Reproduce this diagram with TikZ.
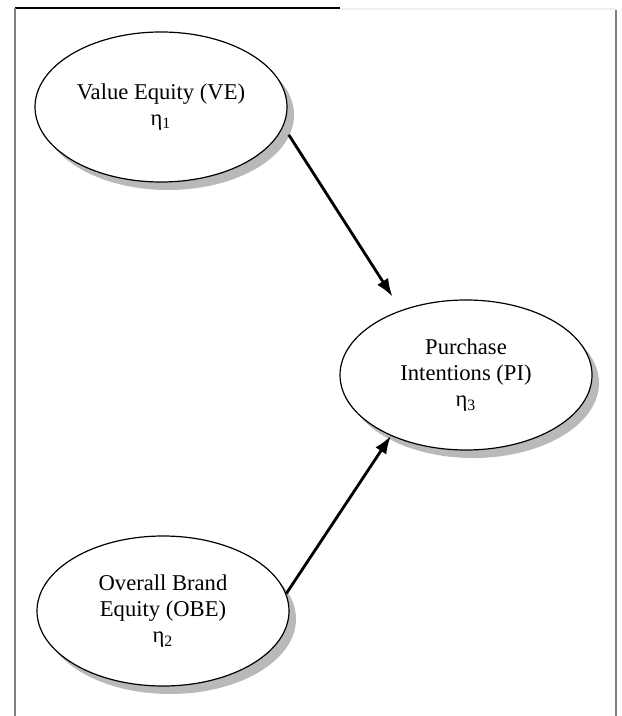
\documentclass[tikz,border=0pt]{standalone}
\usepackage{fontspec}
\setmainfont{Liberation Serif}
\usetikzlibrary{arrows.meta, positioning, shapes.geometric, shadows}

\tikzset{
  construct/.style={ellipse, draw, line width=0.6pt, fill=white,
    minimum width=126pt, minimum height=75pt, inner sep=0pt, align=center,
    font=\fontsize{11.3}{13.2}\selectfont,
    drop shadow={shadow xshift=3.5pt, shadow yshift=-4pt, fill=gray!55, opacity=1}},
  effect/.style={-{Latex[length=9pt,width=6.5pt]}, line width=1.4pt}
}

\begin{document}
\begin{tikzpicture}[x=0.5pt, y=-0.5pt]
            \useasboundingbox (0,0) rectangle (621,716);

            % Draw the frame
            \draw[line width=0.8pt] (15,8) -- (340,8);
            \draw[gray!12, line width=0.8pt] (340,9) -- (616,9);
            \draw[gray, line width=0.8pt] (15,8) -- (15,716);
            \draw[gray, line width=1pt] (616,10) -- (616,716);

            % Place the constructs
            \node[construct] (ve) at (161,107) {Value Equity (VE)\\ η\textsubscript{1}};
            \node[construct] (pi) at (466,375) {Purchase\\ Intentions (PI)\\ η\textsubscript{3}};
            \node[construct] (obe) at (163,611) {Overall Brand\\ Equity (OBE)\\ η\textsubscript{2}};

            % Draw the paths
            \draw[effect, shorten <=5pt, shorten >=8pt] (ve.-9) -- (pi.135);
            \draw[effect] (obe.8) -- (pi.-141);
        \end{tikzpicture}
\end{document}
